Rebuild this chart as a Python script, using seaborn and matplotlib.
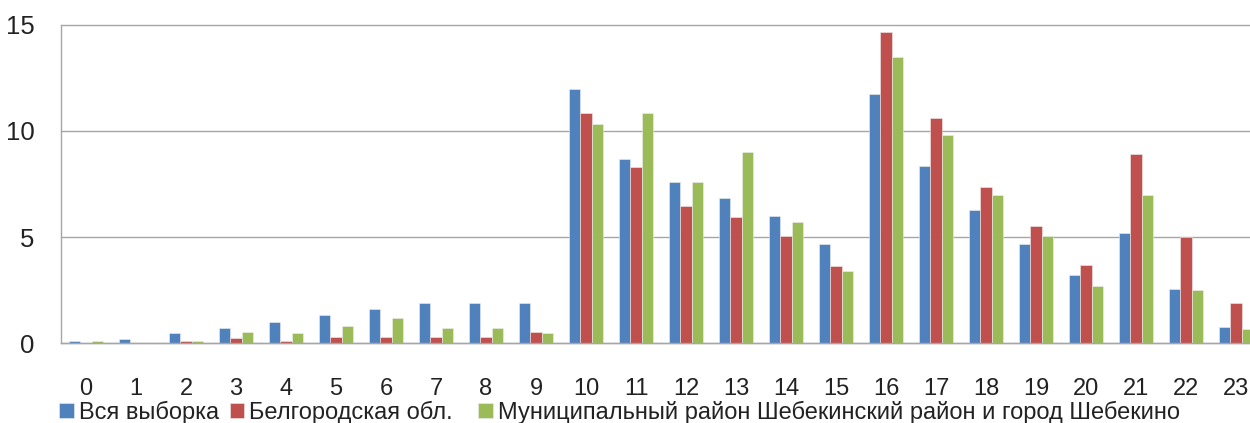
import matplotlib
matplotlib.use("Agg")
import matplotlib.pyplot as plt
import numpy as np
import pandas as pd
import seaborn as sns

hours = [str(h) for h in range(24)]
series_names = [
    "Вся выборка",
    "Белгородская обл.",
    "Муниципальный район Шебекинский район и город Шебекино",
]
all_sample = [0.1, 0.2, 0.45, 0.72, 1.0, 1.34, 1.62, 1.9, 1.9, 1.9, 12.0, 8.7,
              7.6, 6.82, 5.98, 4.66, 11.76, 8.36, 6.27, 4.66, 3.2, 5.21, 2.57, 0.76]
belgorod = [0.0, 0.0, 0.1, 0.24, 0.1, 0.3, 0.3, 0.3, 0.3, 0.52, 10.86, 8.28,
            6.47, 5.92, 5.07, 3.61, 14.68, 10.59, 7.37, 5.5, 3.7, 8.91, 4.99, 1.87]
shebekino = [0.1, 0.0, 0.1, 0.52, 0.45, 0.78, 1.2, 0.72, 0.72, 0.45, 10.31, 10.86,
             7.6, 8.99, 5.71, 3.4, 13.5, 9.81, 6.96, 5.07, 2.71, 6.96, 2.5, 0.68]
colors = ["#4F81BD", "#C0504D", "#9BBB59"]

df = pd.DataFrame({
    "hour": hours * 3,
    "series": np.repeat(series_names, len(hours)),
    "value": all_sample + belgorod + shebekino,
})

sns.set_style("white")
plt.rcParams["font.family"] = ["Liberation Sans", "DejaVu Sans"]

fig = plt.figure(figsize=(12.5, 4.23), dpi=100)
ax = fig.add_axes([61 / 1250, 80 / 423, 1200 / 1250, 318 / 423])

sns.barplot(data=df, x="hour", y="value", hue="series", order=hours,
            hue_order=series_names, palette=colors, saturation=1, width=0.67, gap=0,
            edgecolor="#eeeeee", linewidth=0.4, ax=ax, legend=True)

ax.set_xlim(-0.5, 23.5)
ax.set_ylim(0, 15)
ax.set_yticks([0, 5, 10, 15])
ax.yaxis.grid(True, color="#a6a6a6", linewidth=1.0)
for g in ax.get_ygridlines():
    g.set_clip_on(False)
ax.set_axisbelow(True)

# category boundary ticks (major), labels at centres (minor)
ax.set_xticks(np.arange(-0.5, 24, 1))
ax.set_xticklabels([])
ax.set_xticks(np.arange(24), minor=True)
ax.set_xticklabels(hours, minor=True)
ax.tick_params(axis="x", which="major", length=9, width=1, color="#a6a6a6", direction="out")
ax.tick_params(axis="x", which="minor", length=0, pad=25, labelsize=17, labelcolor="#222222")
ax.tick_params(axis="y", length=7, width=1, color="#a6a6a6", pad=12, labelsize=18.5,
               labelcolor="#222222")

for side in ["top", "right"]:
    ax.spines[side].set_visible(False)
for side in ["left", "bottom"]:
    ax.spines[side].set_color("#a6a6a6")
    ax.spines[side].set_linewidth(1.0)

ax.set_xlabel("")
ax.set_ylabel("")

handles, labels = ax.get_legend_handles_labels()
ax.get_legend().remove()
leg_kw = dict(loc="center left", frameon=False, fontsize=17, handlelength=0.62,
              handleheight=0.62, handletextpad=0.22, columnspacing=0.45, borderpad=0,
              borderaxespad=0, labelcolor="#222222")
fig.legend(handles[:2], labels[:2], ncol=2, bbox_to_anchor=(59 / 1250, 11 / 423), **leg_kw)
fig.legend(handles[2:], labels[2:], ncol=1, bbox_to_anchor=(478 / 1250, 11 / 423), **leg_kw)

fig.savefig("out.png", dpi=100)
